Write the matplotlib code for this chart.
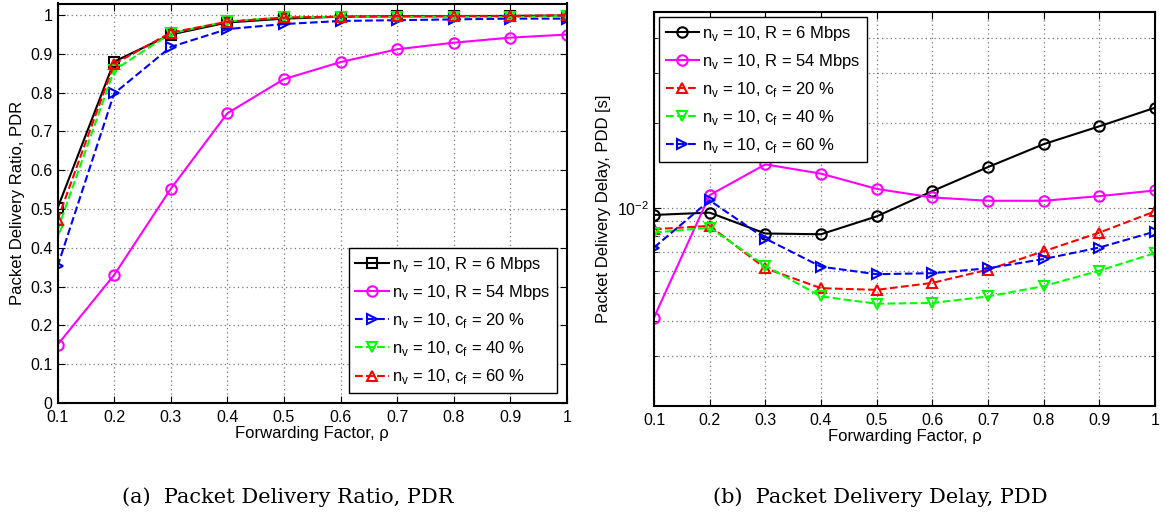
import numpy as np
import matplotlib.pyplot as plt
from matplotlib.ticker import LogLocator, NullFormatter, FixedLocator

plt.rcParams['font.family'] = ['Liberation Sans', 'DejaVu Sans']
plt.rcParams['mathtext.fontset'] = 'custom'
plt.rcParams['mathtext.rm'] = 'Liberation Sans'

rho = [0.1, 0.2, 0.3, 0.4, 0.5, 0.6, 0.7, 0.8, 0.9, 1.0]
x_labels = ['0.1', '0.2', '0.3', '0.4', '0.5', '0.6', '0.7', '0.8', '0.9', '1']

# (a) Packet delivery ratio
pdr_r6 = [0.502, 0.880, 0.950, 0.981, 0.991, 0.996, 0.997, 0.997, 0.998, 0.999]
pdr_r54 = [0.150, 0.330, 0.552, 0.747, 0.835, 0.879, 0.912, 0.929, 0.942, 0.950]
pdr_cf20 = [0.352, 0.798, 0.918, 0.964, 0.977, 0.985, 0.987, 0.989, 0.991, 0.991]
pdr_cf40 = [0.446, 0.858, 0.953, 0.984, 0.994, 0.996, 0.995, 0.996, 0.995, 0.998]
pdr_cf60 = [0.472, 0.874, 0.955, 0.983, 0.994, 0.996, 0.997, 0.998, 0.998, 1.000]

# (b) Packet delivery delay [s]
pdd_r6 = [0.00948, 0.00966, 0.00815, 0.00810, 0.00937, 0.01151, 0.0140, 0.01687, 0.01951, 0.0227]
pdd_r54 = [0.00411, 0.01114, 0.01431, 0.01327, 0.01172, 0.01093, 0.01064, 0.01064, 0.01105, 0.01157]
pdd_cf20 = [0.00844, 0.00867, 0.00614, 0.00522, 0.00515, 0.00545, 0.00607, 0.00705, 0.00821, 0.00976]
pdd_cf40 = [0.00821, 0.00855, 0.00627, 0.00488, 0.00460, 0.00463, 0.00488, 0.00531, 0.00602, 0.00695]
pdd_cf60 = [0.00727, 0.01067, 0.00782, 0.00622, 0.00585, 0.00590, 0.00614, 0.00662, 0.00727, 0.00828]

lab_r6 = r'n$_\mathregular{v}$ = 10, R = 6 Mbps'
lab_r54 = r'n$_\mathregular{v}$ = 10, R = 54 Mbps'
lab_20 = r'n$_\mathregular{v}$ = 10, c$_\mathregular{f}$ = 20 %'
lab_40 = r'n$_\mathregular{v}$ = 10, c$_\mathregular{f}$ = 40 %'
lab_60 = r'n$_\mathregular{v}$ = 10, c$_\mathregular{f}$ = 60 %'

W, H = 1165, 518
fig = plt.figure(figsize=(W / 100, H / 100), dpi=100)
ax1 = fig.add_axes([57.5 / W, (H - 403) / H, 509.5 / W, 399.5 / H])
ax2 = fig.add_axes([654 / W, (H - 406) / H, 501 / W, 394 / H])

mk = dict(markersize=7.5, markerfacecolor='none', markeredgewidth=1.5, linewidth=1.5)
grid_style = dict(linestyle=(0, (1, 2.5)), color='#777777', linewidth=0.9)
leg_style = dict(fontsize=12, frameon=True, fancybox=False, edgecolor='black',
                 framealpha=1, handlelength=2.0, handletextpad=0.2, labelspacing=0.55)

ax1.plot(rho, pdr_r6, '-s', color='black', label=lab_r6, **mk)
ax1.plot(rho, pdr_r54, '-o', color='#ff00ff', label=lab_r54, **mk)
ax1.plot(rho, pdr_cf20, '-->', color='blue', label=lab_20, **mk)
ax1.plot(rho, pdr_cf40, '--v', color='#00ff00', label=lab_40, **mk)
ax1.plot(rho, pdr_cf60, '--^', color='red', label=lab_60, **mk)
ax1.set_xlim(0.1, 1)
ax1.set_ylim(0, 1.03)
ax1.set_yticks(np.arange(0, 1.01, 0.1))
ax1.set_yticklabels(['0', '0.1', '0.2', '0.3', '0.4', '0.5', '0.6', '0.7', '0.8', '0.9', '1'])
ax1.set_ylabel('Packet Delivery Ratio, PDR', fontsize=12, labelpad=4)
ax1.legend(loc='lower right', borderaxespad=0.6, **leg_style)

ax2.plot(rho, pdd_r6, '-o', color='black', label=lab_r6, **mk)
ax2.plot(rho, pdd_r54, '-o', color='#ff00ff', label=lab_r54, **mk)
ax2.plot(rho, pdd_cf20, '--^', color='red', label=lab_20, **mk)
ax2.plot(rho, pdd_cf40, '--v', color='#00ff00', label=lab_40, **mk)
ax2.plot(rho, pdd_cf60, '-->', color='blue', label=lab_60, **mk)
ax2.set_yscale('log')
ax2.set_xlim(0.1, 1)
ax2.set_ylim(2.0e-3, 4.95e-2)
ax2.yaxis.set_major_locator(FixedLocator([1e-2]))
ax2.yaxis.set_minor_locator(LogLocator(base=10, subs=np.arange(2, 10)))
ax2.yaxis.set_minor_formatter(NullFormatter())
ax2.set_ylabel('Packet Delivery Delay, PDD [s]', fontsize=12, labelpad=4)
ax2.grid(True, which='minor', axis='y', **grid_style)
ax2.legend(loc='upper left', borderaxespad=0.3, **leg_style)

for ax in (ax1, ax2):
    ax.set_xticks(rho)
    ax.set_xticklabels(x_labels)
    ax.set_xlabel('Forwarding Factor, ρ', fontsize=12, labelpad=1)
    ax.grid(True, which='major', **grid_style)
    ax.tick_params(which='both', direction='in', top=True, right=True, labelsize=11.5)
    ax.tick_params(which='major', length=5)
    ax.tick_params(which='minor', length=3)
    ax.tick_params(axis='x', pad=5)
    for s in ax.spines.values():
        s.set_linewidth(1.5)

fig.text(288 / W, 1 - 497 / H, '(a)  Packet Delivery Ratio, PDR', ha='center', va='center',
         fontsize=15, family='DejaVu Serif')
fig.text(880 / W, 1 - 497 / H, '(b)  Packet Delivery Delay, PDD', ha='center', va='center',
         fontsize=15, family='DejaVu Serif')

fig.savefig('out.png', dpi=100)
